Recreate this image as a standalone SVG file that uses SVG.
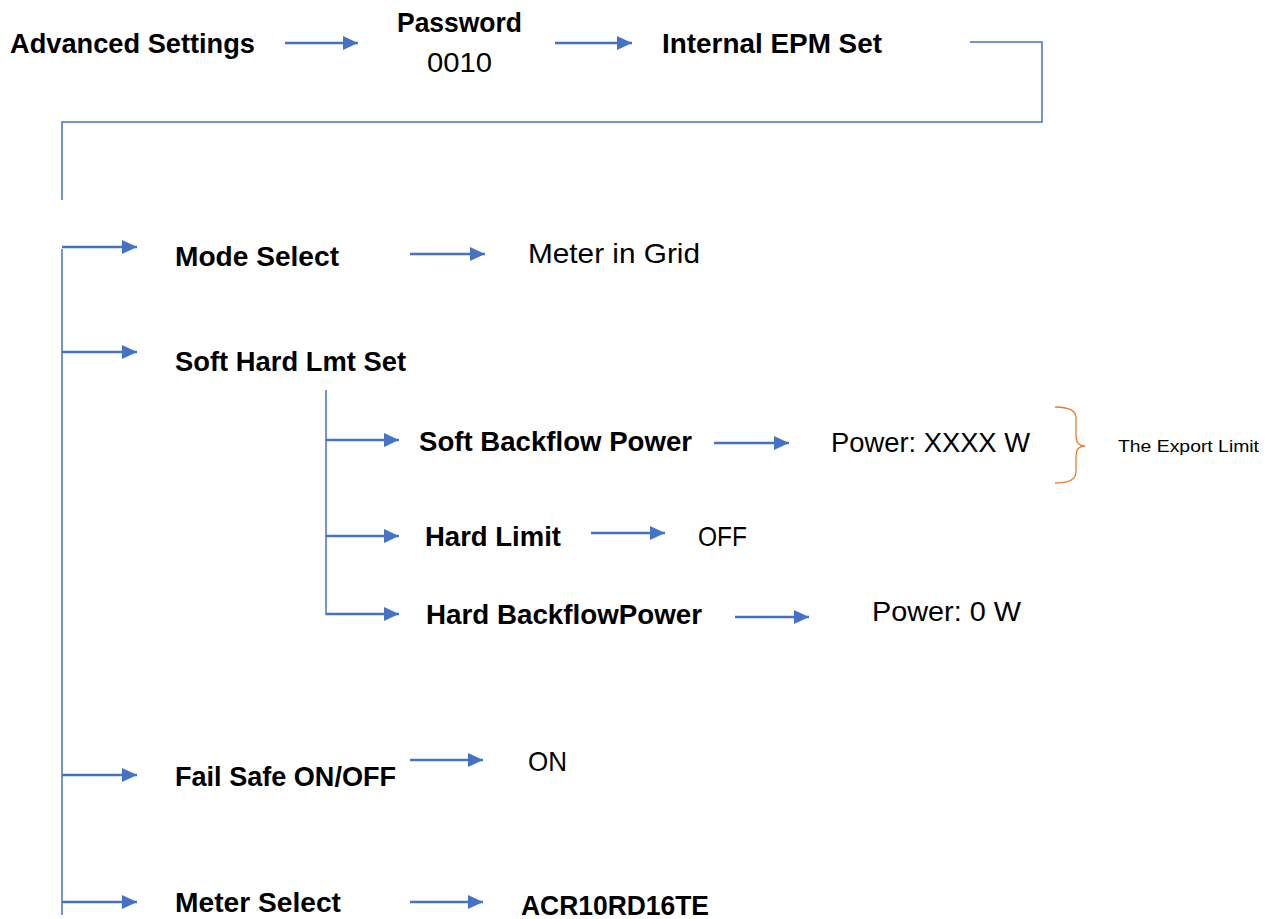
<svg xmlns="http://www.w3.org/2000/svg" width="1276" height="919" viewBox="0 0 1276 919">
<style>
.b{font-family:"Liberation Sans",Arial,sans-serif;font-weight:bold;font-size:28px;fill:#000}
.r{font-family:"Liberation Sans",Arial,sans-serif;font-size:28px;fill:#000}
.s{font-family:"Liberation Sans",Arial,sans-serif;font-size:17px;fill:#000}
.arr{stroke:#4472C4;stroke-width:2.5;fill:none;marker-end:url(#ah)}
.ln{stroke:#4472C4;stroke-width:1.5;fill:none}
</style>
<defs>
<marker id="ah" markerUnits="userSpaceOnUse" markerWidth="15" markerHeight="14" viewBox="0 0 15 14" refX="15" refY="7" orient="auto">
<path d="M0,0 L15,7 L0,14 z" fill="#4472C4"/>
</marker>
</defs>
<rect width="1276" height="919" fill="#fff"/>
<g id="connectors">
<line class="arr" x1="285" y1="43" x2="358" y2="43"/>
<line class="arr" x1="555" y1="43" x2="632" y2="43"/>
<polyline class="ln" points="970,42 1042,42 1042,122 62,122 62,200"/>
<line class="ln" x1="62" y1="249" x2="62" y2="915"/>
<line class="arr" x1="62" y1="247" x2="137" y2="247"/>
<line class="arr" x1="62" y1="352" x2="137" y2="352"/>
<line class="arr" x1="62" y1="775" x2="137" y2="775"/>
<line class="arr" x1="62" y1="902" x2="137" y2="902"/>
<line class="arr" x1="410" y1="254" x2="485" y2="254"/>
<line class="ln" x1="326" y1="390" x2="326" y2="615"/>
<line class="arr" x1="326" y1="440" x2="399" y2="440"/>
<line class="arr" x1="326" y1="536" x2="399" y2="536"/>
<line class="arr" x1="326" y1="614" x2="399" y2="614"/>
<line class="arr" x1="714" y1="443" x2="789" y2="443"/>
<line class="arr" x1="591" y1="533" x2="665" y2="533"/>
<line class="arr" x1="735" y1="617" x2="809" y2="617"/>
<line class="arr" x1="410" y1="760" x2="483" y2="760"/>
<line class="arr" x1="410" y1="902" x2="483" y2="902"/>
<path d="M1055,407 Q1076,407 1076,418 L1076,436 Q1076,446 1085,446 Q1076,446 1076,456 L1076,472 Q1076,483 1055,483" stroke="#ED7D31" stroke-width="1.3" fill="none"/>
</g>
<g id="n-advanced"><text class="b" x="10" y="53" textLength="245" lengthAdjust="spacingAndGlyphs">Advanced Settings</text></g>
<g id="n-password"><text class="b" x="397" y="32" textLength="125" lengthAdjust="spacingAndGlyphs">Password</text><text class="r" x="427" y="72" textLength="65" lengthAdjust="spacingAndGlyphs">0010</text></g>
<g id="n-epm"><text class="b" x="662" y="53" textLength="220" lengthAdjust="spacingAndGlyphs">Internal EPM Set</text></g>
<g id="n-mode"><text class="b" x="175" y="266" textLength="164" lengthAdjust="spacingAndGlyphs">Mode Select</text></g>
<g id="n-meter-grid"><text class="r" x="528" y="263" textLength="172" lengthAdjust="spacingAndGlyphs">Meter in Grid</text></g>
<g id="n-softhard"><text class="b" x="175" y="371" textLength="231" lengthAdjust="spacingAndGlyphs">Soft Hard Lmt Set</text></g>
<g id="n-softbf"><text class="b" x="419" y="451" textLength="273" lengthAdjust="spacingAndGlyphs">Soft Backflow Power</text></g>
<g id="n-power-x"><text class="r" x="831" y="452" textLength="199" lengthAdjust="spacingAndGlyphs">Power: XXXX W</text></g>
<g id="n-export"><text class="s" x="1118" y="452" textLength="141" lengthAdjust="spacingAndGlyphs">The Export Limit</text></g>
<g id="n-hardlimit"><text class="b" x="425" y="546" textLength="136" lengthAdjust="spacingAndGlyphs">Hard Limit</text></g>
<g id="n-off"><text class="r" x="698" y="546" textLength="49" lengthAdjust="spacingAndGlyphs">OFF</text></g>
<g id="n-hardbf"><text class="b" x="426" y="624" textLength="276" lengthAdjust="spacingAndGlyphs">Hard BackflowPower</text></g>
<g id="n-power0"><text class="r" x="872" y="621" textLength="149" lengthAdjust="spacingAndGlyphs">Power: 0 W</text></g>
<g id="n-failsafe"><text class="b" x="175" y="786" textLength="221" lengthAdjust="spacingAndGlyphs">Fail Safe ON/OFF</text></g>
<g id="n-on"><text class="r" x="528" y="771" textLength="39" lengthAdjust="spacingAndGlyphs">ON</text></g>
<g id="n-meterselect"><text class="b" x="175" y="912" textLength="166" lengthAdjust="spacingAndGlyphs">Meter Select</text></g>
<g id="n-acr"><text class="b" x="521" y="915" textLength="188" lengthAdjust="spacingAndGlyphs">ACR10RD16TE</text></g>
</svg>
